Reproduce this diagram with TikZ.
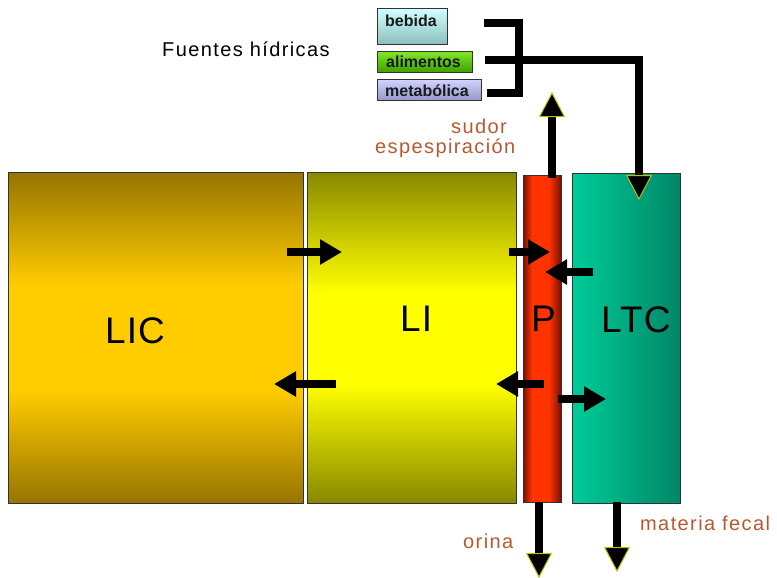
\documentclass[tikz,border=0pt]{standalone}
\usepackage{fontspec}
\setmainfont{Liberation Sans}
\usetikzlibrary{arrows.meta}
\definecolor{licdark}{RGB}{150,116,0}
\definecolor{licmid}{RGB}{255,204,0}
\definecolor{lidark}{RGB}{136,136,0}
\definecolor{limid}{RGB}{255,255,0}
\definecolor{pdark}{RGB}{120,16,0}
\definecolor{pred}{RGB}{255,51,0}
\definecolor{ltcl}{RGB}{0,204,153}
\definecolor{ltcr}{RGB}{0,134,102}
\definecolor{brownlbl}{RGB}{181,90,48}
\definecolor{tipyel}{RGB}{190,190,0}
\definecolor{bordergray}{RGB}{50,50,50}
\pgfdeclareverticalshading{licshade}{100bp}{color(0bp)=(licdark); color(25bp)=(licdark); color(42bp)=(licmid); color(58bp)=(licmid); color(75bp)=(licdark); color(100bp)=(licdark)}
\pgfdeclareverticalshading{lishade}{100bp}{color(0bp)=(lidark); color(25bp)=(lidark); color(43bp)=(limid); color(57bp)=(limid); color(75bp)=(lidark); color(100bp)=(lidark)}
\tikzset{
  bigbox/.style={draw=bordergray, line width=0.8pt, inner sep=0pt, anchor=north west},
  srcbox/.style={draw=bordergray, line width=1.2pt, inner sep=0pt, anchor=north west},
  biglbl/.style={font=\fontsize{37}{37}\selectfont\addfontfeatures{LetterSpace=3}, inner sep=0pt, anchor=base west},
  srclbl/.style={font=\fontsize{16}{16}\selectfont\bfseries, text=black!90, inner sep=0pt, anchor=base west},
  outlbl/.style={font=\fontsize{20}{20}\selectfont\addfontfeatures{LetterSpace=7}, text=brownlbl, inner sep=0pt, anchor=base west},
  fat/.style={line width=8pt, -{Triangle[length=22pt,width=24pt]}},
  fatv/.style={line width=8pt, -{Triangle[length=25pt,width=26pt,fill=black,color=tipyel,line width=1pt]}},
  bracket/.style={line width=7.5pt, line join=miter, line cap=butt}
}
\begin{document}
\begin{tikzpicture}[x=1pt,y=-1pt]
\useasboundingbox (0,0) rectangle (777,578);
% main compartments
\node[bigbox, shading=licshade, minimum width=295pt, minimum height=331pt] (lic) at (8,172) {};
\node[bigbox, shading=lishade, minimum width=209pt, minimum height=331pt] (li) at (307,172) {};
% P: red tube with dark edges
\fill[pred] (523,175) rectangle (561,502);
\shade[left color=pdark, right color=pred] (523,175) rectangle (532,502);
\shade[left color=pred, right color=pdark] (549,175) rectangle (561,502);
\node[bigbox, minimum width=38pt, minimum height=327pt] (p) at (523,175) {};
\node[bigbox, left color=ltcl, right color=ltcr, minimum width=108pt, minimum height=330pt] (ltc) at (572,173) {};
\node[biglbl] (liclbl) at (105,343) {LIC};
\node[biglbl] (lilbl) at (400,331) {LI};
\node[biglbl] (plbl) at (531,331) {P};
\node[biglbl] (ltclbl) at (601,332) {LTC};
% water sources
\node[font=\fontsize{20}{20}\selectfont\addfontfeatures{LetterSpace=7}, inner sep=0pt, anchor=base west] (fuentes) at (162,57) {Fuentes hídricas};
\node[srcbox, top color=white!80!cyan!90!white, bottom color={rgb,255:red,140;green,190;blue,190}, minimum width=70pt, minimum height=36pt] (bebida) at (377,8) {};
\node[srclbl] at (385,27) {bebida};
\node[srcbox, top color={rgb,255:red,130;green,230;blue,40}, bottom color={rgb,255:red,60;green,160;blue,0}, minimum width=95pt, minimum height=21pt] (alimentos) at (377,51) {};
\node[srclbl] at (386,67) {alimentos};
\node[srcbox, top color={rgb,255:red,210;green,210;blue,255}, bottom color={rgb,255:red,150;green,150;blue,200}, minimum width=104pt, minimum height=21pt] (metabolica) at (377,79) {};
\node[srclbl] at (385,96) {metabólica};
% bracket
\coordinate (b1) at (484,23);
\coordinate (b2) at (519,23);
\coordinate (b3) at (519,93);
\coordinate (b4) at (487,93);
\coordinate (m1) at (485,60);
\coordinate (m2) at (639,60);
\coordinate (m3) at (639,200);
\draw[bracket] (b1) -- (b2) -- (b3) -- (b4);
\draw[bracket, fatv, line width=7.5pt] (m1) -- (m2) -- (m3);
% vertical exits
\coordinate (u1) at (552,178);
\coordinate (u2) at (552,92);
\draw[fatv] (u1) -- (u2);
\coordinate (d1) at (539,502);
\coordinate (d2) at (539,578);
\draw[fatv] (d1) -- (d2);
\coordinate (e1) at (617,502);
\coordinate (e2) at (617,572);
\draw[fatv] (e1) -- (e2);
% horizontal exchanges
\coordinate (h1s) at (287,252); \coordinate (h1e) at (342,252);
\draw[fat] (h1s) -- (h1e);
\coordinate (h2s) at (509,252); \coordinate (h2e) at (550,252);
\draw[fat] (h2s) -- (h2e);
\coordinate (h3s) at (593,272); \coordinate (h3e) at (545,272);
\draw[fat] (h3s) -- (h3e);
\coordinate (h4s) at (336,384); \coordinate (h4e) at (274,384);
\draw[fat] (h4s) -- (h4e);
\coordinate (h5s) at (544,384); \coordinate (h5e) at (496,384);
\draw[fat] (h5s) -- (h5e);
\coordinate (h6s) at (558,399); \coordinate (h6e) at (606,399);
\draw[fat] (h6s) -- (h6e);
% output labels
\node[outlbl] (sudor) at (451,133) {sudor};
\node[outlbl] (esp) at (375,153) {espespiración};
\node[outlbl] (orina) at (463,548) {orina};
\node[outlbl] (fecal) at (640,530) {materia fecal};
\end{tikzpicture}
\end{document}
